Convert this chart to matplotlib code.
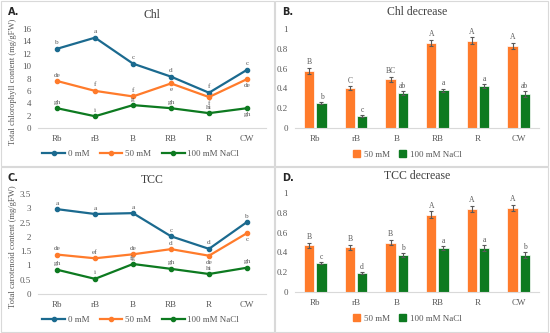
import matplotlib.pyplot as plt
import numpy as np
from matplotlib.lines import Line2D
from matplotlib.patches import Rectangle

plt.rcParams['font.family'] = ['Liberation Serif', 'DejaVu Serif']

W, H = 550, 333
BLUE = '#1b6a8f'
ORANGE = '#ff7b2b'
GREEN = '#0d7a20'
GREY = '#595959'
AXIS = '#d9d9d9'

categories = ['Rb', 'rB', 'B', 'RB', 'R', 'CW']

# A. Chl (mg/gFW)
chl_0 = [12.8, 14.6, 10.4, 8.3, 5.7, 9.4]
chl_50 = [7.6, 6.0, 5.1, 7.2, 5.0, 7.9]
chl_100 = [3.2, 1.9, 3.7, 3.2, 2.4, 3.2]
chl_0_let = ['b', 'a', 'c', 'd', 'f', 'c']
chl_50_let = ['de', 'f', 'f', 'e', 'f', 'de']
chl_100_let = ['gh', 'i', 'g', 'gh', 'hi', 'gh']
chl_50_below = [False, False, False, True, True, True]
chl_100_below = [False, False, False, False, False, True]

# B. Chl decrease
chld_50 = [0.58, 0.40, 0.49, 0.86, 0.88, 0.83]
chld_50_err = [0.03, 0.02, 0.025, 0.03, 0.035, 0.03]
chld_100 = [0.25, 0.12, 0.35, 0.38, 0.42, 0.34]
chld_100_err = [0.01, 0.01, 0.02, 0.015, 0.02, 0.03]
chld_50_let = ['B', 'C', 'BC', 'A', 'A', 'A']
chld_100_let = ['b', 'c', 'ab', 'a', 'a', 'ab']

# C. TCC (mg/gFW)
tcc_0 = [2.97, 2.80, 2.83, 2.02, 1.58, 2.52]
tcc_50 = [1.38, 1.25, 1.39, 1.57, 1.34, 2.13]
tcc_100 = [0.85, 0.53, 1.05, 0.88, 0.70, 0.92]
tcc_0_let = ['a', 'a', 'a', 'c', 'd', 'b']
tcc_50_let = ['de', 'ef', 'de', 'd', 'de', 'c']
tcc_100_let = ['gh', 'i', 'fg', 'gh', 'hi', 'gh']
tcc_50_below = [False, False, False, False, True, True]
tcc_100_below = [False, False, False, False, False, False]

# D. TCC decrease
tccd_50 = [0.47, 0.45, 0.50, 0.78, 0.84, 0.85]
tccd_50_err = [0.025, 0.025, 0.03, 0.035, 0.03, 0.03]
tccd_100 = [0.29, 0.19, 0.37, 0.44, 0.44, 0.37]
tccd_100_err = [0.01, 0.01, 0.02, 0.02, 0.03, 0.03]
tccd_50_let = ['B', 'B', 'B', 'A', 'A', 'A']
tccd_100_let = ['c', 'd', 'b', 'a', 'a', 'b']


def axes_px(fig, x0, x1, y_top, y_bot):
    return fig.add_axes([x0 / W, 1 - y_bot / H, (x1 - x0) / W, (y_bot - y_top) / H])


def style_axes(ax, ymax, step, fmt):
    x = np.arange(len(categories))
    ax.set_xlim(-0.5, len(categories) - 0.5)
    ax.set_ylim(0, ymax)
    ax.set_xticks(x)
    ax.set_xticklabels(categories)
    ticks = np.arange(0, ymax + step / 2, step)
    ax.set_yticks(ticks)
    ax.set_yticklabels([fmt(t) for t in ticks])
    for s in ['top', 'right', 'left']:
        ax.spines[s].set_visible(False)
    ax.spines['bottom'].set_color(AXIS)
    ax.tick_params(length=0, labelsize=6.5, colors=GREY, pad=5)
    ax.patch.set_alpha(0)


def line_panel(ax, series, ymax, step, fmt, title, ylabel):
    x = np.arange(len(categories))
    for vals, color, lets, below in series:
        ax.plot(x, vals, color=color, lw=1.6, marker='o', ms=3, clip_on=False)
        for xi, v, l, b in zip(x, vals, lets, below):
            off = -4.6 if b else 4.3
            ax.annotate(l, (xi, v), xytext=(0, off), textcoords='offset points',
                        ha='center', va='center', fontsize=5.2, color=GREY)
    style_axes(ax, ymax, step, fmt)
    ax.set_title(title, fontsize=8.5, color='#404040', pad=8)
    ax.set_ylabel(ylabel, fontsize=6.2, color=GREY)
    ax.yaxis.set_label_coords(-(38 - 17) / 228, 0.47)
    handles = [Line2D([], [], color=c, lw=1.6, marker='o', ms=3) for c in (BLUE, ORANGE, GREEN)]
    ax.legend(handles, ['0 mM', '50 mM', '100 mM NaCl'], loc='center',
              bbox_to_anchor=(0.45, -0.26), ncol=3, frameon=False, fontsize=6.5,
              handlelength=2.5, handletextpad=0.3, columnspacing=1.2, labelcolor=GREY)


def bar_panel(ax, v50, e50, l50, v100, e100, l100, title):
    x = np.arange(len(categories))
    w = 0.25
    gap = 0.05
    ekw = dict(ecolor=GREY, elinewidth=0.8, capsize=1.5, capthick=0.8)
    b1 = ax.bar(x - w / 2 - gap / 2, v50, w, color=ORANGE, edgecolor='white', lw=0.5,
                yerr=e50, error_kw=ekw)
    b2 = ax.bar(x + w / 2 + gap / 2, v100, w, color=GREEN, edgecolor='white', lw=0.5,
                yerr=e100, error_kw=ekw)
    for bars, vals, errs, lets in ((b1, v50, e50, l50), (b2, v100, e100, l100)):
        for r, v, e, l in zip(bars, vals, errs, lets):
            ax.annotate(l, (r.get_x() + r.get_width() / 2, v + e), xytext=(0, 4),
                        textcoords='offset points', ha='center', va='center',
                        fontsize=5.5, color=GREY)
    style_axes(ax, 1.0, 0.2,
               lambda t: '0' if t == 0 else ('1' if t == 1 else f'{t:.1f}'))
    ax.set_title(title, fontsize=8.5, color='#404040', pad=10)
    handles = [Rectangle((0, 0), 1, 1, color=ORANGE), Rectangle((0, 0), 1, 1, color=GREEN)]
    ax.legend(handles, ['50 mM', '100 mM NaCl'], loc='center',
              bbox_to_anchor=(0.46, -0.27), ncol=2, frameon=False, fontsize=6.5,
              handlelength=0.8, handleheight=0.8, handletextpad=0.4, columnspacing=1.0,
              labelcolor=GREY)


fig = plt.figure(figsize=(W / 100, H / 100), dpi=100)
fig.patch.set_facecolor('white')

# panel frames
for (x0, y0) in [(1, 1), (275, 1), (1, 167), (275, 167)]:
    fig.patches.append(Rectangle((x0 / W, 1 - (y0 + 165) / H), 273 / W, 165 / H,
                                 transform=fig.transFigure, fill=False,
                                 edgecolor=AXIS, lw=0.8))

axA = axes_px(fig, 38, 266, 29, 128)
line_panel(axA, [(chl_0, BLUE, chl_0_let, [False] * 6),
                 (chl_50, ORANGE, chl_50_let, chl_50_below),
                 (chl_100, GREEN, chl_100_let, chl_100_below)],
           16, 2, lambda t: f'{t:.0f}', 'Chl',
           'Total chlorophyll content (mg/gFW)')

axB = axes_px(fig, 295, 539, 29, 128)
bar_panel(axB, chld_50, chld_50_err, chld_50_let, chld_100, chld_100_err, chld_100_let,
          'Chl decrease')

axC = axes_px(fig, 38, 266, 194, 294)
line_panel(axC, [(tcc_0, BLUE, tcc_0_let, [False] * 6),
                 (tcc_50, ORANGE, tcc_50_let, tcc_50_below),
                 (tcc_100, GREEN, tcc_100_let, tcc_100_below)],
           3.5, 0.5, lambda t: f'{t:g}', 'TCC',
           'Total carotenoid content (mg/gFW)')

axD = axes_px(fig, 295, 539, 193, 292)
bar_panel(axD, tccd_50, tccd_50_err, tccd_50_let, tccd_100, tccd_100_err, tccd_100_let,
          'TCC decrease')

for label, (px, py) in zip(['A.', 'B.', 'C.', 'D.'],
                           [(8, 12), (282, 12), (8, 178), (282, 178)]):
    fig.text(px / W, 1 - py / H, label, fontsize=7, fontweight='bold',
             family='DejaVu Sans', color='#262626', va='center')

fig.savefig('out.png', dpi=100)
